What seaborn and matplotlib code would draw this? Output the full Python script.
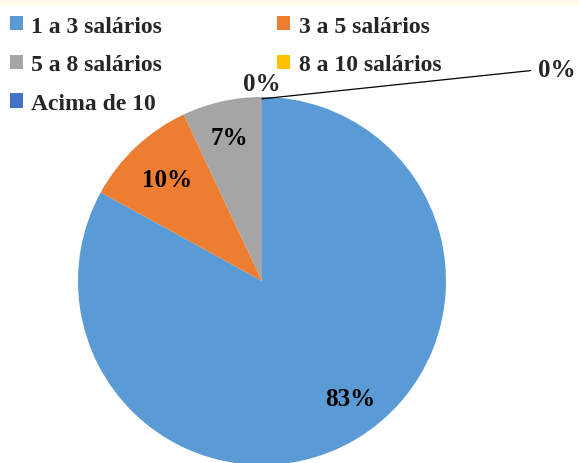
import matplotlib
matplotlib.use("Agg")
import matplotlib.pyplot as plt
import seaborn as sns
import numpy as np
from matplotlib.patches import Rectangle

categorias = ["1 a 3 salários", "3 a 5 salários", "5 a 8 salários",
              "8 a 10 salários", "Acima de 10"]
percentuais = [83, 10, 7, 0, 0]
cores = ["#5B9BD5", "#ED7D31", "#A5A5A5", "#FFC000", "#4472C4"]

sns.set_theme(style="white")
plt.rcParams["font.family"] = ["Liberation Serif", "DejaVu Serif"]
plt.rcParams["font.weight"] = "bold"

W, H = 579, 464
fig = plt.figure(figsize=(W / 100, H / 100), dpi=100)
fig.patch.set_facecolor("white")
fig.patches.append(Rectangle((0, 1 - 6 / H), 1, 6 / H, transform=fig.transFigure,
                             facecolor="#FFFBEA", edgecolor="none"))

# pie centre and radius in pixels
cx, cy, r = 262, 282, 184
ax = fig.add_axes([(cx - r) / W, (H - cy - r) / H, 2 * r / W, 2 * r / H])

wedges, texts, autotexts = ax.pie(
    percentuais, colors=cores, startangle=90, counterclock=False,
    autopct=lambda p: f"{p:.0f}%", pctdistance=0.8,
    textprops=dict(fontsize=18, fontweight="bold", color="black"),
    wedgeprops=dict(linewidth=0),
)
ax.set_xlim(-1, 1)
ax.set_ylim(-1, 1)

# nudge labels a bit, like the original
x0, y0 = autotexts[0].get_position()
autotexts[0].set_position((x0 + 0.07, y0 + 0.05))
x0, y0 = autotexts[1].get_position()
autotexts[1].set_position((x0 + 0.03, y0 - 0.03))

# zero-valued slices: reposition their labels
for i, v in enumerate(percentuais):
    if v == 0:
        autotexts[i].set_visible(False)
ang = np.deg2rad(wedges[3].theta1)
ax.text(np.cos(ang), np.sin(ang) + 0.01, f"{percentuais[3]}%", ha="center",
        va="bottom", fontsize=18, fontweight="bold")
ang = np.deg2rad(wedges[4].theta1)
ax.annotate(f"{percentuais[4]}%", xy=(np.cos(ang), np.sin(ang) - 0.01),
            xytext=(1.5, 1.15), ha="left", va="center",
            fontsize=18, fontweight="bold", annotation_clip=False,
            arrowprops=dict(arrowstyle="-", color="black", lw=0.9,
                            connectionstyle="angle,angleA=0,angleB=6,rad=0",
                            shrinkA=3, shrinkB=0))

order = [0, 2, 4, 1, 3]
leg = fig.legend([wedges[i] for i in order], [categorias[i] for i in order],
                 ncol=2, loc="upper left", bbox_to_anchor=(-0.012, 1.0),
                 frameon=False, fontsize=17, handlelength=0.55, handleheight=0.55,
                 handletextpad=0.35, columnspacing=4.9, labelspacing=0.75,
                 borderaxespad=0.3)
for t in leg.get_texts():
    t.set_fontweight("bold")

fig.savefig("out.png", dpi=100)
